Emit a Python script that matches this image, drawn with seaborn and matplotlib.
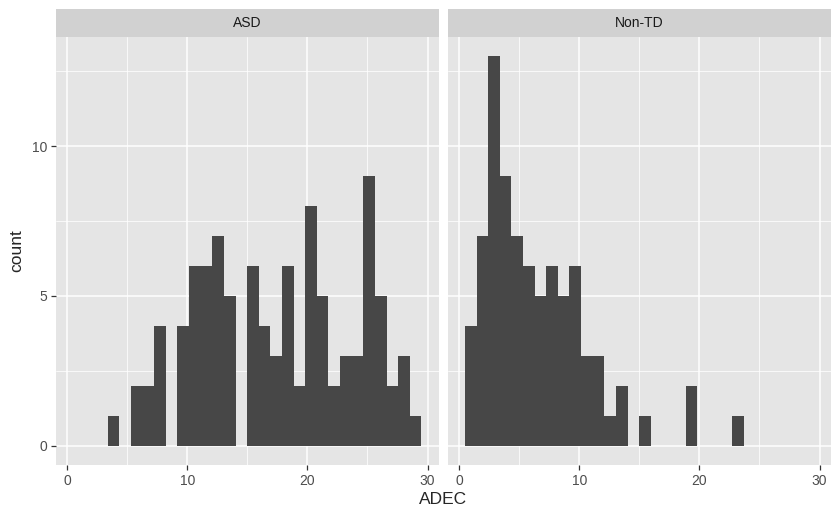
import pandas as pd
import numpy as np
import matplotlib
matplotlib.use("Agg")
import matplotlib.pyplot as plt
from matplotlib.patches import Rectangle
import seaborn as sns

# ADEC scores (integers) and how many children got each score, per group
adec_values = list(range(1, 30))
asd_counts = [0, 0, 0, 1, 0, 2, 2, 4, 0, 4, 6, 6, 7, 5, 6, 4, 3, 6, 2, 8,
              5, 2, 3, 3, 9, 5, 2, 3, 1]
nontd_counts = [4, 7, 13, 9, 7, 6, 5, 6, 5, 6, 3, 3, 1, 2, 1, 0, 0, 0, 2, 0,
                0, 0, 1, 0, 0, 0, 0, 0, 0]
groups = ["ASD", "Non-TD"]

df = pd.concat([
    pd.DataFrame({"ADEC": adec_values, "n": asd_counts, "group": "ASD"}),
    pd.DataFrame({"ADEC": adec_values, "n": nontd_counts, "group": "Non-TD"}),
])

sns.set_style("white")
plt.rcParams["font.family"] = ["Liberation Sans", "DejaVu Sans"]

W, H = 840, 519
fig = plt.figure(figsize=(W / 100, H / 100), dpi=100)

panel_bg = "#E5E5E5"
strip_bg = "#D1D1D1"
bar_col = "#474747"

# panel boxes in pixels: left, right, top, bottom
top, bottom = 36.7, 465.3
lefts = [56, 448]
pw = 382.7
strip_h = (top - 9) / (bottom - top)

for i, g in enumerate(groups):
    ax = fig.add_axes([lefts[i] / W, 1 - bottom / H, pw / W, (bottom - top) / H])
    ax.set_facecolor(panel_bg)
    sub = df[df["group"] == g]
    sns.histplot(data=sub, x="ADEC", weights="n", bins=30, binrange=(0.48, 29.49),
                 color=bar_col, edgecolor=None, linewidth=0, alpha=1, ax=ax, zorder=3)
    ax.set_xlim(-0.93, 30.93)
    ax.set_ylim(-0.65, 13.65)
    ax.set_xticks([0, 10, 20, 30])
    ax.set_xticks([5, 15, 25], minor=True)
    ax.set_yticks([0, 5, 10])
    ax.set_yticks([2.5, 7.5, 12.5], minor=True)
    ax.grid(which="major", color="white", lw=1.1, zorder=0)
    ax.grid(which="minor", color="white", lw=0.55, zorder=0)
    ax.set_axisbelow(True)
    for s in ax.spines.values():
        s.set_visible(False)
    ax.set_xlabel("")
    ax.set_ylabel("")
    ax.tick_params(axis="both", which="major", length=3.5, width=0.9, color="#333333",
                   labelsize=10, labelcolor="#4D4D4D", pad=2.5, bottom=True, left=True)
    ax.tick_params(axis="both", which="minor", length=0)
    if i == 1:
        ax.tick_params(axis="y", which="both", left=False, labelleft=False)
    # facet strip
    ax.add_patch(Rectangle((0, 1), 1, strip_h, transform=ax.transAxes,
                           facecolor=strip_bg, edgecolor="none", clip_on=False))
    ax.text(0.5, 1 + strip_h / 2, g, transform=ax.transAxes, ha="center", va="center",
            fontsize=10, color="#1A1A1A")

fig.text((56 + 830.7) / 2 / W, 1 - 499 / H, "ADEC", ha="center", va="center", fontsize=12.5)
fig.text(17 / W, 1 - (top + bottom) / 2 / H, "count", ha="center", va="center",
         rotation=90, fontsize=12.5)

fig.savefig("out.png", dpi=100, facecolor="white")
